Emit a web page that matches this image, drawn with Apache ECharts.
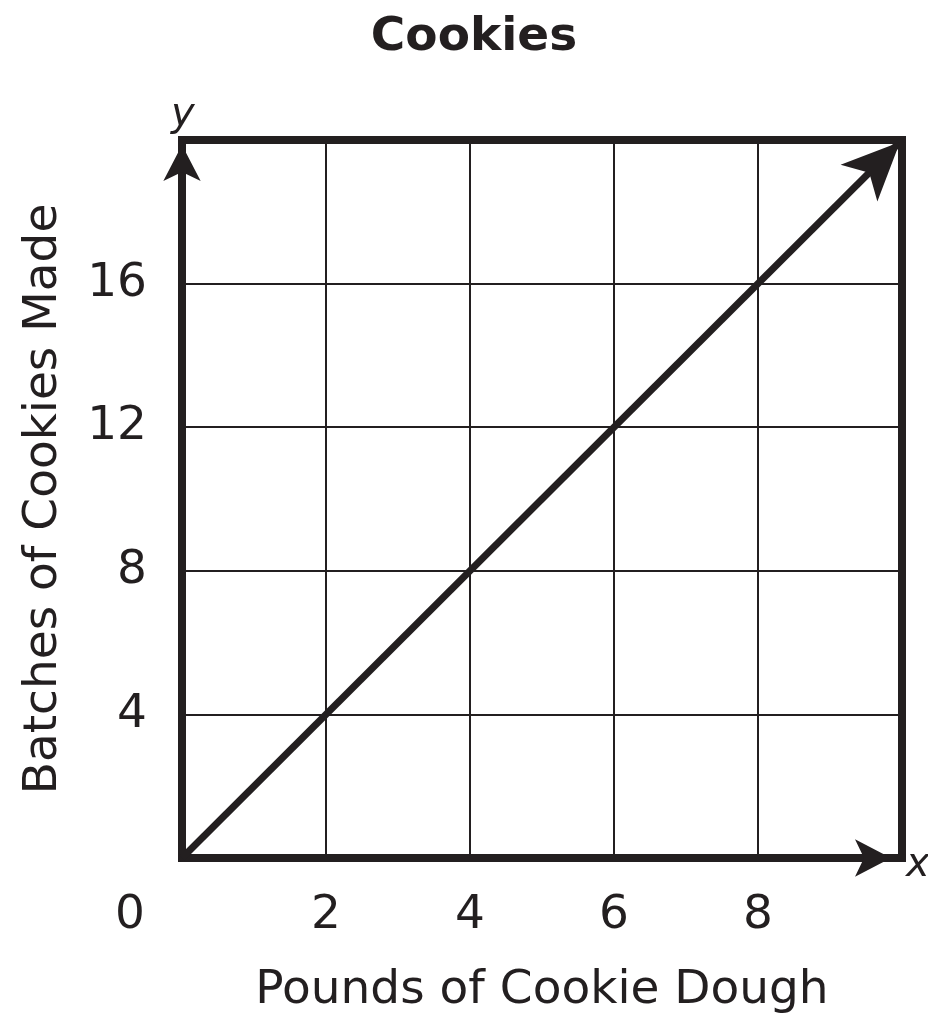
<!DOCTYPE html>
<html>
<head>
<meta charset="utf-8">
<script src="https://cdn.jsdelivr.net/npm/echarts@6/dist/echarts.min.js"></script>
<style>
html,body{margin:0;padding:0;background:#fff;}
#chart{width:928px;height:1013px;}
</style>
</head>
<body>
<div id="chart"></div>
<script>
// ---- data ----
const chartTitle = 'Cookies';
const xName = 'Pounds of Cookie Dough';
const yName = 'Batches of Cookies Made';
const xTickValues = [0, 2, 4, 6, 8];
const yTickValues = [4, 8, 12, 16];
const lineX = [0, 10];
const lineY = [0, 20];
const xRange = [0, 10];
const yRange = [0, 20];

const INK = '#231f20';
const FONT = '"DejaVu Sans", Verdana, sans-serif';

const chart = echarts.init(document.getElementById('chart'), null, {renderer: 'canvas'});

const lineData = lineX.map((x, i) => [x, lineY[i]]);

chart.setOption({
  animation: false,
  backgroundColor: '#ffffff',
  title: {
    text: chartTitle,
    left: 474,
    textAlign: 'center',
    top: 14,
    padding: 0,
    textStyle: {fontFamily: FONT, fontWeight: 'bold', fontSize: 47, color: INK}
  },
  grid: {
    left: 182, right: 26, top: 140, bottom: 155,
    outerBoundsMode: 'none', containLabel: false,
    show: true, borderColor: INK, borderWidth: 8, backgroundColor: 'transparent'
  },
  xAxis: {
    type: 'value', min: xRange[0], max: xRange[1], interval: 2,
    name: xName, nameLocation: 'middle', nameGap: 109, nameMoveOverlap: false,
    nameTextStyle: {fontFamily: FONT, fontSize: 47, color: INK},
    axisLine: {show: true, lineStyle: {color: INK, width: 8}, symbol: ['none', 'arrow'], symbolSize: [28, 36], symbolOffset: [0, -11]},
    axisTick: {show: false},
    splitLine: {show: true, lineStyle: {color: INK, width: 2}},
    axisLabel: {
      margin: 34, fontFamily: FONT, fontSize: 47, color: INK,
      formatter: v => v === 0 ? '{z|0}' : (xTickValues.includes(v) ? String(v) : ''),
      rich: {z: {fontFamily: FONT, fontSize: 47, color: INK, padding: [0, 104, 0, 0]}}
    }
  },
  yAxis: {
    type: 'value', min: yRange[0], max: yRange[1], interval: 4,
    name: yName, nameLocation: 'middle', nameGap: 115, nameRotate: 90, nameMoveOverlap: false,
    nameTextStyle: {fontFamily: FONT, fontSize: 47, color: INK},
    axisLine: {show: true, lineStyle: {color: INK, width: 8}, symbol: ['none', 'arrow'], symbolSize: [28, 36], symbolOffset: [0, -5]},
    axisTick: {show: false},
    splitLine: {show: true, lineStyle: {color: INK, width: 2}},
    axisLabel: {
      margin: 35, fontFamily: FONT, fontSize: 47, color: INK,
      formatter: v => yTickValues.includes(v) ? String(v) : ''
    }
  },
  graphic: [
    {type: 'text', left: 171, top: 96, style: {text: 'y', font: 'italic 40px ' + FONT, fill: INK}},
    {type: 'text', left: 906, top: 846, style: {text: 'x', font: 'italic 40px ' + FONT, fill: INK}}
  ],
  series: [{
    type: 'line',
    data: lineData,
    clip: false,
    showSymbol: true,
    symbol: (val, params) => params.dataIndex === lineData.length - 1 ? 'arrow' : 'none',
    symbolSize: [39, 58],
    symbolRotate: -45,
    symbolOffset: [-2, 2],
    itemStyle: {color: INK},
    lineStyle: {color: INK, width: 7},
    z: 5
  }]
});
</script>
</body>
</html>
